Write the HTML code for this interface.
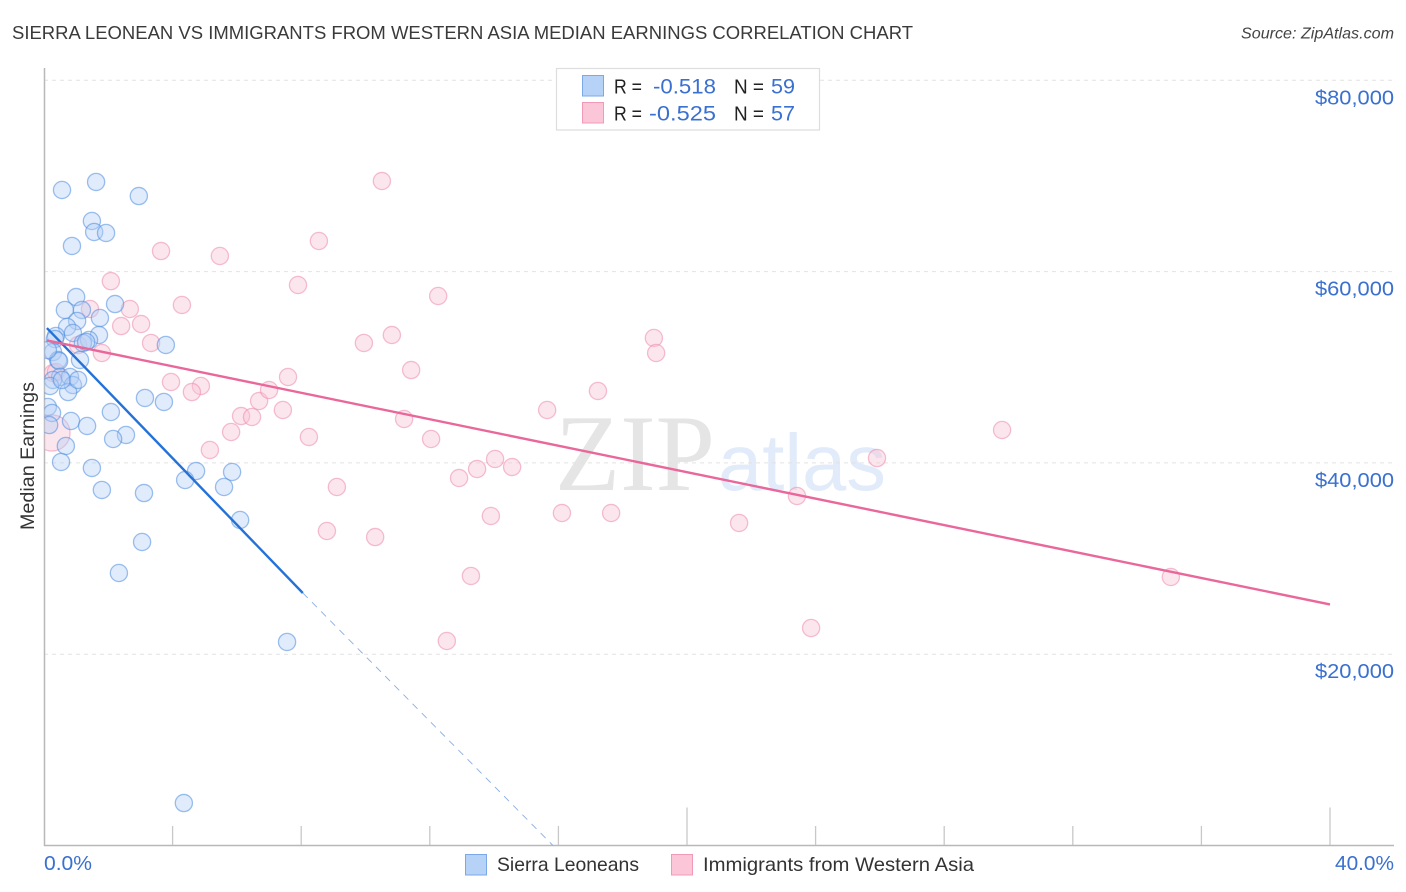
<!DOCTYPE html>
<html lang="en">
<head>
<meta charset="utf-8">
<title>Sierra Leonean vs Immigrants from Western Asia Median Earnings Correlation Chart</title>
<style>
html,body{margin:0;padding:0;background:#fff;}
svg{display:block;font-family:"Liberation Sans",sans-serif;}
</style>
</head>
<body>
<svg id="chart" xmlns="http://www.w3.org/2000/svg" width="1406" height="892" viewBox="0 0 1406 892">
  <defs>
    <clipPath id="plot-clip"><rect x="44.5" y="68" width="1350" height="777"></rect></clipPath>
  </defs>
  <rect x="0" y="0" width="1406" height="892" fill="#ffffff"></rect>
  <text x="12" y="39" font-size="18.5" fill="#3a3a3a" textLength="901" lengthAdjust="spacingAndGlyphs">SIERRA LEONEAN VS IMMIGRANTS FROM WESTERN ASIA MEDIAN EARNINGS CORRELATION CHART</text>
  <text x="1394" y="38.5" font-size="16" font-style="italic" fill="#444444" text-anchor="end" textLength="153" lengthAdjust="spacingAndGlyphs">Source: ZipAtlas.com</text>

  <g>
    <text x="555" y="490" font-family="'Liberation Serif',serif" font-size="109" fill="#e5e5e5" textLength="160" lengthAdjust="spacingAndGlyphs">ZIP</text>
    <text x="718" y="490" font-family="'Liberation Sans',sans-serif" font-size="80" fill="#e1ebfa" textLength="168" lengthAdjust="spacingAndGlyphs">atlas</text>
  </g>

  <g id="grid"></g>
  <g id="axes"></g>
  <g id="points" clip-path="url(#plot-clip)"></g>
  <g id="trends"></g>
  <g id="labels"></g>

  <text transform="translate(34 456) rotate(-90)" font-size="19" fill="#333333" text-anchor="middle" textLength="148" lengthAdjust="spacingAndGlyphs">Median Earnings</text>

  <g>
    <rect x="556.5" y="68.5" width="263" height="61.5" fill="#ffffff" stroke="#dddddd" stroke-width="1.2"></rect>
    <rect x="582.5" y="75.5" width="21" height="20.5" fill="#b6d2f6" stroke="#7aa8e8" stroke-width="1"></rect>
    <rect x="582.5" y="102.5" width="21" height="20.5" fill="#fbc6d8" stroke="#f09ab8" stroke-width="1"></rect>
    <text x="614" y="93.5" font-size="20.5" fill="#222222" textLength="28" lengthAdjust="spacingAndGlyphs">R =</text>
    <text x="653" y="93.5" font-size="21.5" fill="#3a70d0" textLength="63" lengthAdjust="spacingAndGlyphs">-0.518</text>
    <text x="734" y="93.5" font-size="20.5" fill="#222222" textLength="30" lengthAdjust="spacingAndGlyphs">N =</text>
    <text x="771" y="93.5" font-size="21.5" fill="#3a70d0" textLength="24" lengthAdjust="spacingAndGlyphs">59</text>
    <text x="614" y="120.5" font-size="20.5" fill="#222222" textLength="28" lengthAdjust="spacingAndGlyphs">R =</text>
    <text x="649" y="120.5" font-size="21.5" fill="#3a70d0" textLength="67" lengthAdjust="spacingAndGlyphs">-0.525</text>
    <text x="734" y="120.5" font-size="20.5" fill="#222222" textLength="30" lengthAdjust="spacingAndGlyphs">N =</text>
    <text x="771" y="120.5" font-size="21.5" fill="#3a70d0" textLength="24" lengthAdjust="spacingAndGlyphs">57</text>
  </g>

  <g>
    <rect x="465.5" y="854.5" width="21" height="20.5" fill="#b6d2f6" stroke="#7aa8e8" stroke-width="1"></rect>
    <text x="497" y="871" font-size="19.5" fill="#333333" textLength="142" lengthAdjust="spacingAndGlyphs">Sierra Leoneans</text>
    <rect x="671.5" y="854.5" width="21" height="20.5" fill="#fbc6d8" stroke="#f09ab8" stroke-width="1"></rect>
    <text x="703" y="871" font-size="19.5" fill="#333333" textLength="271" lengthAdjust="spacingAndGlyphs">Immigrants from Western Asia</text>
  </g>
</svg>

<script>
var blueX = [0.56,1.62,2.95,1.49,1.56,1.93,0.87,1.00,0.65,1.18,2.21,1.74,1.03,0.72,1.71,0.90,0.37,0.34,1.40,1.21,3.79,1.31,1.12,0.28,0.44,0.47,0.50,0.81,0.28,0.90,0.19,0.75,0.56,3.14,3.73,0.12,0.25,2.08,0.84,1.34,2.55,2.15,0.16,0.68,0.53,1.49,4.73,5.85,4.39,5.60,1.80,3.11,6.10,3.05,2.33,7.56,4.35,0.12,1.06];
var blueY = [68.53,69.37,67.90,65.29,64.14,64.04,62.68,57.34,55.99,55.99,56.61,55.15,54.84,54.21,53.37,53.58,53.27,52.95,52.85,52.54,52.33,52.64,50.76,51.59,50.76,50.65,48.98,48.98,48.67,48.14,48.04,47.41,48.67,46.79,46.37,45.85,45.22,45.32,44.38,43.86,42.92,42.50,43.96,41.77,40.10,39.47,39.15,39.05,38.21,37.48,37.17,36.85,34.03,31.73,28.49,21.28,4.44,51.80,48.67];
var pinkX = [2.08,1.43,2.67,2.40,3.02,4.29,3.64,5.47,3.33,1.80,1.06,3.95,4.88,4.60,5.16,5.82,6.13,6.47,6.69,7.00,7.59,7.43,8.24,8.55,7.90,10.51,12.26,10.82,9.95,11.42,11.20,12.04,17.23,15.65,18.97,19.04,14.03,13.47,14.56,12.91,9.11,13.90,16.11,17.64,8.80,10.30,13.28,12.53,21.62,23.42,25.91,29.80,35.05,23.86,0.28,0.37,0.25];
var pinkY = [59.00,56.09,56.09,54.31,54.52,56.51,62.15,61.63,52.54,51.49,52.33,48.46,48.04,47.41,41.35,43.23,44.90,44.80,46.47,47.62,48.98,45.53,42.71,63.20,58.60,69.47,57.45,53.37,52.54,49.71,44.59,42.50,47.52,45.53,53.06,51.49,40.41,39.36,39.57,38.42,37.48,34.45,34.76,34.76,32.88,32.25,28.18,21.38,33.72,36.54,40.51,43.44,28.07,22.74,49.40,49.50,43.13];
var pinkWeight = [1,1,1,1,1,1,1,1,1,1,1,1,1,1,1,1,1,1,1,1,1,1,1,1,1,1,1,1,1,1,1,1,1,1,1,1,1,1,1,1,1,1,1,1,1,1,1,1,1,1,1,1,1,1,1,1,4.4];
var blueTrendX = [0.09, 8.05];
var blueTrendY = [54.1, 26.4];
var blueDashX = [8.05, 15.83];
var blueDashY = [26.4, 0];
var pinkTrendX = [0.09, 40.0];
var pinkTrendY = [52.8, 25.2];
var yTicks = [80, 60, 40, 20];
var yTickLabels = ["$80,000", "$60,000", "$40,000", "$20,000"];
var xTicks = [4, 8, 12, 16, 20, 24, 28, 32, 36, 40];
var xTickMajor = [0, 0, 0, 0, 1, 0, 0, 0, 0, 1];
var xEndLabels = ["0.0%", "40.0%"];

var SVGNS = "http://www.w3.org/2000/svg";
function sx(v) { return 44 + v * 32.15; }
function sy(v) { return 845.5 - v * 9.565; }
function make(tag, parentId, attrs) {
  var el = document.createElementNS(SVGNS, tag);
  for (var k in attrs) { el.setAttribute(k, attrs[k]); }
  document.getElementById(parentId).appendChild(el);
  return el;
}

yTicks.forEach(function (v) {
  var el = make("line", "grid", {x1: 44, x2: 1394, y1: sy(v), y2: sy(v), stroke: "#e2e2e2", "stroke-width": 1, "stroke-dasharray": "4 4"});
  
  
});

var yAxis = make("line", "axes", {x1: 44.5, x2: 44.5, y1: 68, y2: 846, stroke: "#b8b8b8", "stroke-width": 1.5});


var xAxis = make("line", "axes", {x1: 44, x2: 1394, y1: 845.5, y2: 845.5, stroke: "#b8b8b8", "stroke-width": 1.5});


xTicks.forEach(function (v, i) {
  var tick = make("line", "axes", {x1: sx(v), x2: sx(v), y1: xTickMajor[i] ? 807.5 : 826, y2: 845, stroke: "#c8c8c8", "stroke-width": 1.3});
  
  
});

function drawPoints(xs, ys, weights, fill, stroke, name) {
  xs.forEach(function (v, i) {
    var w = weights ? weights[i] : 1;
    var dot = make("circle", "points", {cx: sx(v), cy: sy(ys[i]), r: 8.6 * Math.sqrt(w), fill: fill, "fill-opacity": 0.42, stroke: stroke, "stroke-opacity": 0.55, "stroke-width": 1.3});
    
    
  });
}
drawPoints(pinkX, pinkY, pinkWeight, "#f9c4d5", "#ec8aad", "point-immigrants-western-asia");
drawPoints(blueX, blueY, null, "#b4d0f6", "#4f8ce0", "point-sierra-leoneans");

var t1 = make("line", "trends", {x1: sx(blueTrendX[0]), y1: sy(blueTrendY[0]), x2: sx(blueTrendX[1]), y2: sy(blueTrendY[1]), stroke: "#2472d8", "stroke-width": 2.4});


var t2 = make("line", "trends", {x1: sx(blueDashX[0]), y1: sy(blueDashY[0]), x2: sx(blueDashX[1]), y2: sy(blueDashY[1]), stroke: "#8aaee4", "stroke-width": 0.9, "stroke-dasharray": "7 6"});


var t3 = make("line", "trends", {x1: sx(pinkTrendX[0]), y1: sy(pinkTrendY[0]), x2: sx(pinkTrendX[1]), y2: sy(pinkTrendY[1]), stroke: "#e9679a", "stroke-width": 2.4});



yTicks.forEach(function (v, i) {
  var label = make("text", "labels", {x: 1394, y: sy(v) + 24, "font-size": 20, fill: "#3a70d0", "text-anchor": "end", textLength: 79, lengthAdjust: "spacingAndGlyphs"});
  label.textContent = yTickLabels[i];
  
  
});
var xl0 = make("text", "labels", {x: 44, y: 870, "font-size": 20, fill: "#3a70d0", textLength: 48, lengthAdjust: "spacingAndGlyphs"});
xl0.textContent = xEndLabels[0];


var xl1 = make("text", "labels", {x: 1394, y: 870, "font-size": 20, fill: "#3a70d0", "text-anchor": "end", textLength: 59, lengthAdjust: "spacingAndGlyphs"});
xl1.textContent = xEndLabels[1];


</script>
</body>
</html>
